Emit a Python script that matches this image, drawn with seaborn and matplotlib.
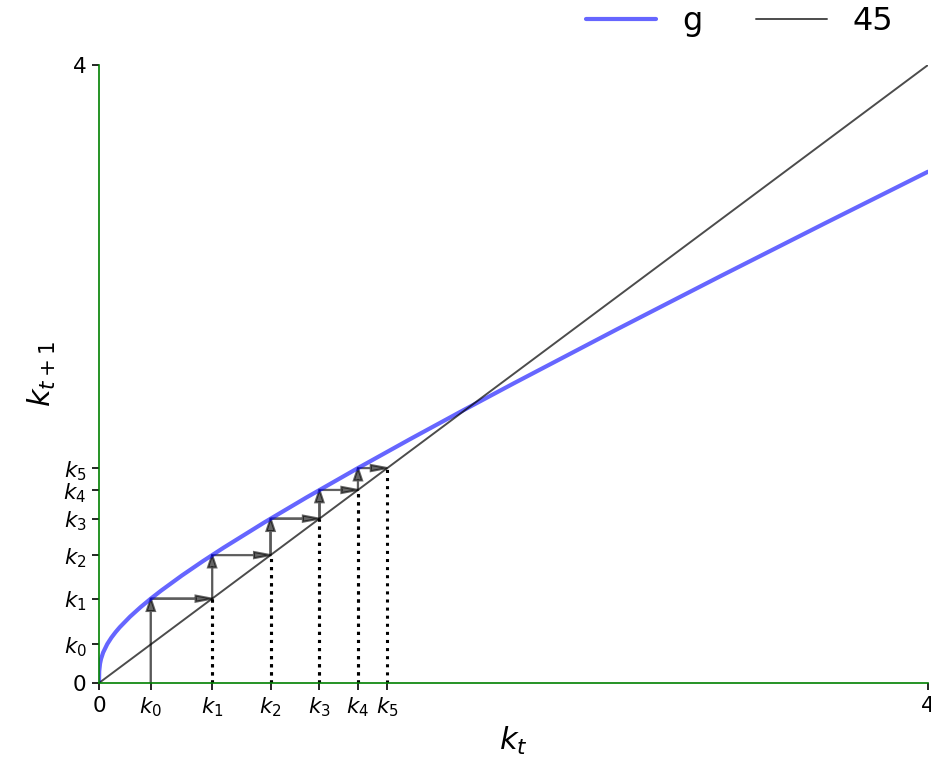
import numpy as np
import pandas as pd
import matplotlib
matplotlib.use("Agg")
import matplotlib.pyplot as plt
import seaborn as sns

# curve g(k) values
k_grid = [0.0, 0.001, 0.005, 0.01, 0.02, 0.04, 0.06, 0.08, 0.1, 0.15, 0.2, 0.25,
          0.3, 0.4, 0.5, 0.6, 0.8, 1.0, 1.25, 1.5, 1.75, 2.0, 2.5, 3.0, 3.5, 4.0]
g_vals = [0.0, 0.0761, 0.1254, 0.1567, 0.1975, 0.2524, 0.2940, 0.3292, 0.3607,
          0.4296, 0.4902, 0.5459, 0.5981, 0.6958, 0.7874, 0.8747, 1.0411, 1.2,
          1.3915, 1.5776, 1.7597, 1.9387, 2.2898, 2.6342, 2.9737, 3.3094]
line45_x = [0.0, 4.0]
line45_y = [0.0, 4.0]

# iterates k0..k5
k_seq = [0.25, 0.5459, 0.8279, 1.0637, 1.2495, 1.3912]
tick_vals = [0, 0.25, 0.5459, 0.8279, 1.0637, 1.2495, 1.3912, 4]
tick_labels = ['0', '$k_0$', '$k_1$', '$k_2$', '$k_3$', '$k_4$', '$k_5$', '4']

sns.set_style("white")
plt.rcParams.update({'text.color': 'black', 'axes.labelcolor': 'black',
                     'xtick.color': 'black', 'ytick.color': 'black'})
fig = plt.figure(figsize=(9.31, 7.72), dpi=100)
ax = fig.add_axes([99 / 931, 1 - 683 / 772, (928 - 99) / 931, (683 - 65) / 772])

df_g = pd.DataFrame({"k": k_grid, "g": g_vals})
df_45 = pd.DataFrame({"k": line45_x, "y": line45_y})
sns.lineplot(data=df_g, x="k", y="g", ax=ax, color="blue", lw=3, alpha=0.6, label="g")
sns.lineplot(data=df_45, x="k", y="y", ax=ax, color="k", lw=1.4, alpha=0.7, label="45")

hw = 0.04
hl = 0.08
arrow_args = dict(fc="k", ec="k", head_width=hw, length_includes_head=True,
                  lw=1.5, alpha=0.6, head_length=hl)
for i in range(5):
    x = k_seq[i]
    gx = k_seq[i + 1]
    if i == 0:
        ax.arrow(x, 0.0, 0.0, gx, **arrow_args)
    else:
        ax.arrow(x, x, 0.0, gx - x, **arrow_args)
        ax.plot((x, x), (0, x), 'k', ls='dotted', lw=2.2)
    ax.arrow(x, gx, gx - x, 0, **arrow_args)
    ax.plot((gx, gx), (0, gx), 'k', ls='dotted', lw=2.2)

ax.set_xlim(0, 4)
ax.set_ylim(0, 4)
ax.set_xticks(tick_vals)
ax.set_yticks(tick_vals)
ax.set_xticklabels(tick_labels, fontsize=15.5, color='black')
ax.set_yticklabels(tick_labels, fontsize=15.5, color='black')
ax.tick_params(axis='both', which='major', length=5, width=1.2, color='k',
               bottom=True, left=True, pad=4)

for side in ['top', 'right']:
    ax.spines[side].set_visible(False)
for side in ['left', 'bottom']:
    ax.spines[side].set_color('green')
    ax.spines[side].set_linewidth(1.2)

ax.set_xlabel('$k_t$', fontsize=22, color='black')
ax.set_ylabel('$k_{t+1}$', fontsize=22, color='black')

leg = ax.legend(ncol=2, frameon=False, fontsize=23, loc='upper right',
                bbox_to_anchor=(0.99, 1.029), bbox_transform=fig.transFigure,
                handlelength=2.2, columnspacing=1.7)
for t in leg.get_texts():
    t.set_color('black')

fig.savefig("out.png", dpi=100)
